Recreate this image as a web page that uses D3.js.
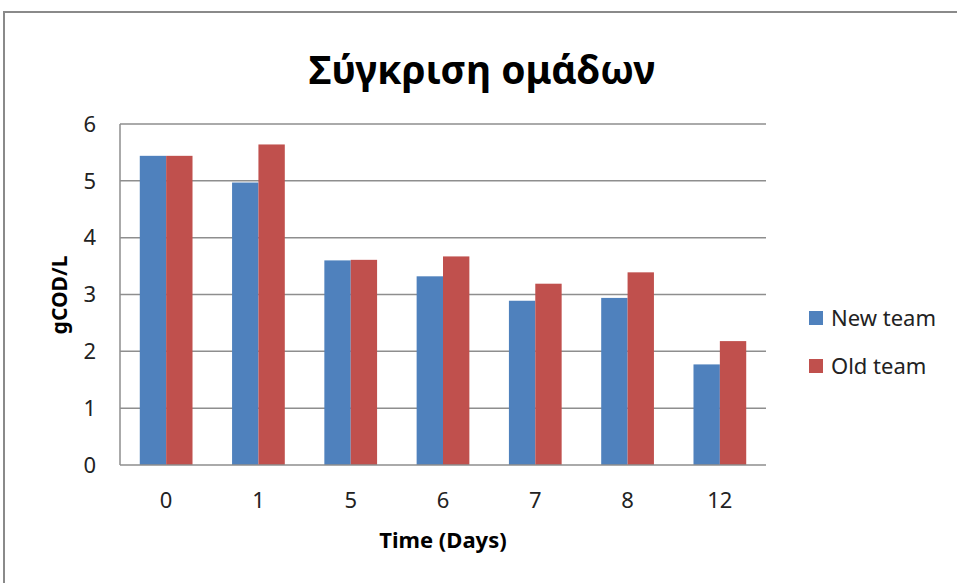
<!DOCTYPE html>
<html>
<head>
<meta charset="utf-8">
<script src="https://cdn.jsdelivr.net/npm/d3@7"></script>
<style>
  html, body { margin: 0; padding: 0; background: #fff; }
  svg { display: block; font-family: "Noto Sans", "Open Sans", sans-serif; }
</style>
</head>
<body>
<svg id="chart" width="957" height="583"></svg>
<script>
// Chart data
const days = ["0", "1", "5", "6", "7", "8", "12"];
const seriesNames = ["New team", "Old team"];
const newTeam = [5.44, 4.97, 3.60, 3.32, 2.89, 2.94, 1.77];
const oldTeam = [5.44, 5.64, 3.61, 3.67, 3.19, 3.39, 2.18];
const yTicks = [0, 1, 2, 3, 4, 5, 6];

const colors = ["#4F81BD", "#C0504D"];
const values = [newTeam, oldTeam];

const svg = d3.select("#chart");

// Chart frame
svg.append("rect")
  .attr("x", 4).attr("y", 12)
  .attr("width", 1000).attr("height", 1000)
  .attr("fill", "#fff")
  .attr("stroke", "#8a8a8a")
  .attr("stroke-width", 2);

const plot = { left: 120, right: 766, top: 124, bottom: 465 };

const y = d3.scaleLinear().domain([0, 6]).range([plot.bottom, plot.top]);
const x = d3.scaleBand().domain(days).range([plot.left, plot.right]).padding(0);
const xSub = d3.scaleBand().domain(seriesNames).range([0, x.bandwidth()])
  .paddingInner(0).paddingOuter(0.75);

// Horizontal gridlines
svg.append("g")
  .selectAll("line")
  .data(yTicks.filter(d => d > 0))
  .join("line")
  .attr("x1", plot.left).attr("x2", plot.right)
  .attr("y1", d => y(d)).attr("y2", d => y(d))
  .attr("stroke", "#8e8e8e")
  .attr("stroke-width", 1.5);

// Bars
const groups = svg.append("g")
  .selectAll("g")
  .data(days)
  .join("g")
  .attr("transform", d => `translate(${x(d)},0)`);

groups.selectAll("rect")
  .data((d, i) => seriesNames.map((s, j) => ({ s, v: values[j][i], c: colors[j] })))
  .join("rect")
  .attr("x", d => xSub(d.s))
  .attr("width", xSub.bandwidth())
  .attr("y", d => y(d.v))
  .attr("height", d => y(0) - y(d.v))
  .attr("fill", d => d.c);

// Axis lines
svg.append("line")
  .attr("x1", plot.left).attr("x2", plot.left)
  .attr("y1", plot.top).attr("y2", plot.bottom)
  .attr("stroke", "#8e8e8e").attr("stroke-width", 1.5);
svg.append("line")
  .attr("x1", plot.left).attr("x2", plot.right)
  .attr("y1", plot.bottom).attr("y2", plot.bottom)
  .attr("stroke", "#8e8e8e").attr("stroke-width", 1.5);

// Y tick labels
svg.append("g")
  .selectAll("text")
  .data(yTicks)
  .join("text")
  .attr("x", 96)
  .attr("y", d => y(d))
  .attr("dy", "0.35em")
  .attr("text-anchor", "end")
  .attr("font-size", 22)
  .attr("fill", "#222")
  .text(d => d);

// X tick labels
svg.append("g")
  .selectAll("text")
  .data(days)
  .join("text")
  .attr("x", d => x(d) + x.bandwidth() / 2)
  .attr("y", 500)
  .attr("dy", "0.35em")
  .attr("text-anchor", "middle")
  .attr("font-size", 22)
  .attr("fill", "#222")
  .text(d => d);

// Title
svg.append("text")
  .attr("x", 482).attr("y", 70)
  .attr("dy", "0.35em")
  .attr("text-anchor", "middle")
  .attr("font-size", 39)
  .attr("font-weight", "bold")
  .attr("fill", "#000")
  .text("Σύγκριση ομάδων");

// Axis titles
svg.append("text")
  .attr("x", 443).attr("y", 540)
  .attr("dy", "0.35em")
  .attr("text-anchor", "middle")
  .attr("font-size", 22)
  .attr("font-weight", "bold")
  .attr("fill", "#000")
  .text("Time (Days)");

svg.append("text")
  .attr("transform", "translate(60,295) rotate(-90)")
  .attr("dy", "0.35em")
  .attr("text-anchor", "middle")
  .attr("font-size", 21)
  .attr("font-weight", "bold")
  .attr("fill", "#000")
  .text("gCOD/L");

// Legend
const legend = svg.append("g")
  .selectAll("g")
  .data(seriesNames)
  .join("g")
  .attr("transform", (d, i) => `translate(809,${311 + i * 48})`);

legend.append("rect")
  .attr("width", 14).attr("height", 14)
  .attr("fill", (d, i) => colors[i]);

legend.append("text")
  .attr("x", 22).attr("y", 7)
  .attr("dy", "0.35em")
  .attr("font-size", 22)
  .attr("fill", "#222")
  .text(d => d);
</script>
</body>
</html>
